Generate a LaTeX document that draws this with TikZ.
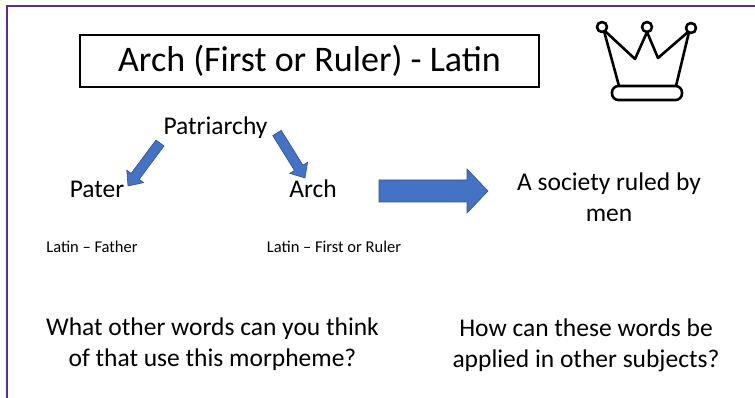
\documentclass[tikz,border=0pt]{standalone}
\usepackage{fontspec}
\setmainfont{Carlito}
\definecolor{framepurple}{RGB}{92, 46, 140}
\definecolor{arrowblue}{RGB}{68, 114, 196}
\definecolor{arrowedge}{RGB}{47, 82, 143}
\usetikzlibrary{calc, positioning}

\begin{document}
\begin{tikzpicture}[
  x=1pt, y=1pt,
  big/.style={font=\fontsize{25.5}{31}\selectfont, align=center, inner sep=0pt},
  small/.style={font=\fontsize{16.5}{20}\selectfont, inner sep=0pt},
  blockarrow/.style n args={3}{draw=arrowedge, fill=arrowblue, line width=0.6pt, line join=miter,
    to path={let \p1=(\tikztostart), \p2=(\tikztotarget),
      \n1={atan2(\y2-\y1,\x2-\x1)}, \n2={veclen(\x2-\x1,\y2-\y1)} in
      ([shift={(\p1)},rotate=\n1]0pt,-#1) -- ([shift={(\p1)},rotate=\n1]\n2-#3,-#1)
      -- ([shift={(\p1)},rotate=\n1]\n2-#3,-#2) -- ([shift={(\p1)},rotate=\n1]\n2,0pt)
      -- ([shift={(\p1)},rotate=\n1]\n2-#3,#2) -- ([shift={(\p1)},rotate=\n1]\n2-#3,#1)
      -- ([shift={(\p1)},rotate=\n1]0pt,#1) -- cycle}},
  crown/.style={draw=black, line width=2.6pt, line join=round, line cap=round}
]
  \useasboundingbox (0,0) rectangle (755,-398);

  % Slide frame
  \draw[framepurple, line width=2.8pt] (7,-398) -- (7,-6) -- (760,-6);

  % Title
  \node[draw, line width=1.8pt, minimum width=459pt, minimum height=52pt, inner sep=0pt,
        font=\fontsize{36}{40}\selectfont] (title) at (309.5,-61) {Arch (First or Ruler) - Latin};

  % Crown
  \draw[crown] (604,-31) -- (619,-86);
  \draw[crown] (606,-32) -- (635,-59) -- (647,-32) -- (658,-58) -- (688,-32);
  \draw[crown] (689,-32) -- (676,-86);
  \draw[crown, fill=white] (602,-27) circle (5pt) (647,-27) circle (5pt) (691,-28) circle (5pt);
  \draw[crown, fill=white, rounded corners=6.5pt] (612,-86) rectangle (682,-100);

  % Word parts
  \node[big, anchor=base] (patr) at (215.5,-135) {Patriarchy};
  \node[big, anchor=base] (pater) at (97,-198) {Pater};
  \node[big, anchor=base] (arch) at (313,-198) {Arch};
  \node[small, anchor=base] (paterlat) at (92,-253) {Latin – Father};
  \node[small, anchor=base] (archlat) at (334,-253) {Latin – First or Ruler};
  \node[big, anchor=base] (meaning) at (609,-222) {A society ruled by\\men};

  % Arrows
  \coordinate (pl) at (160,-143);
  \coordinate (plt) at (128,-186);
  \coordinate (pr) at (277,-133);
  \coordinate (prt) at (305,-178);
  \coordinate (ar) at (379,-191);
  \coordinate (art) at (488,-191);
  \draw[blockarrow={5pt}{10.5pt}{12pt}] (pl) to (plt);
  \draw[blockarrow={5pt}{10.5pt}{12pt}] (pr) to (prt);
  \draw[blockarrow={11pt}{22pt}{21pt}] (ar) to (art);

  % Questions
  \node[big, anchor=base] (qleft) at (212.5,-366) {What other words can you think\\of that use this morpheme?};
  \node[big, anchor=base] (qright) at (586,-367) {How can these words be\\applied in other subjects?};
\end{tikzpicture}
\end{document}
